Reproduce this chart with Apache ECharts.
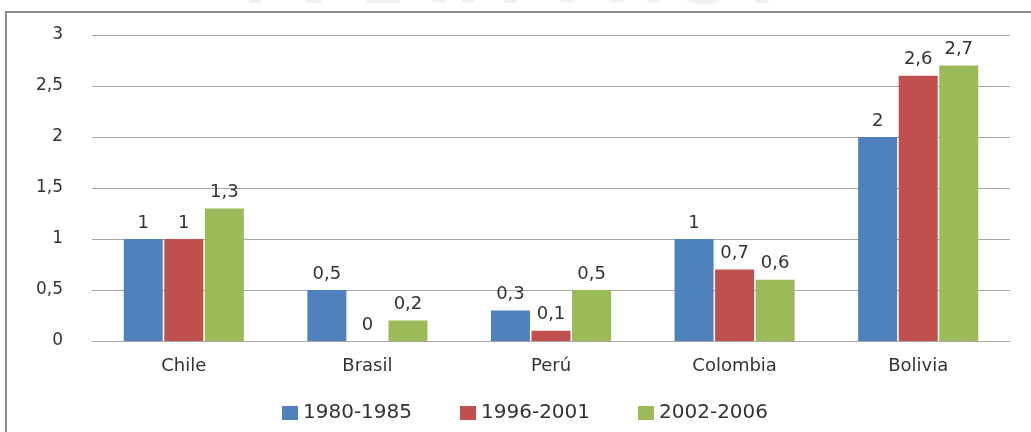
<!DOCTYPE html>
<html>
<head>
<meta charset="utf-8">
<script src="https://cdn.jsdelivr.net/npm/echarts@6/dist/echarts.min.js"></script>
<style>
  html, body { margin: 0; padding: 0; background: #fff; }
  #chart { width: 1031px; height: 432px; }
</style>
</head>
<body>
<div id="chart"></div>
<script>
// datos
const paises = ['Chile', 'Brasil', 'Perú', 'Colombia', 'Bolivia'];
const periodos = ['1980-1985', '1996-2001', '2002-2006'];
const p1980 = [1, 0.5, 0.3, 1, 2];
const p1996 = [1, 0, 0.1, 0.7, 2.6];
const p2002 = [1.3, 0.2, 0.5, 0.6, 2.7];
const colores = ['#4F81BD', '#C0504D', '#9BBB59'];

const coma = v => String(v).replace('.', ',');

const myChart = echarts.init(document.getElementById('chart'), null, { renderer: 'canvas' });

const serie = (name, data, color) => ({
  name: name,
  type: 'bar',
  data: data,
  barWidth: 39,
  barGap: '4%',
  itemStyle: { color: color },
  label: {
    show: true,
    position: 'top',
    distance: 7,
    color: '#333',
    fontFamily: 'DejaVu Sans',
    fontSize: 18,
    formatter: p => coma(p.value)
  }
});

const option = {
  animation: false,
  color: colores,
  graphic: [
    {
      type: 'text',
      z: -2,
      left: 243,
      top: -46,
      style: {
        text: 'I V E R I T A S I',
        fontFamily: 'DejaVu Sans',
        fontWeight: 'bold',
        fontSize: 64,
        fill: '#f0f0f0'
      }
    },
    {
      type: 'rect',
      z: -1,
      shape: { x: 6, y: 12, width: 1040, height: 440 },
      style: { fill: '#fff', stroke: '#8a8a8a', lineWidth: 2 }
    }
  ],
  grid: { left: 92, right: 21, top: 35, bottom: 91 },
  legend: {
    data: periodos,
    left: 277,
    top: 398,
    itemWidth: 16,
    itemHeight: 14,
    itemGap: 48,
    icon: 'rect',
    textStyle: { color: '#333', fontFamily: 'DejaVu Sans', fontSize: 20 }
  },
  xAxis: {
    type: 'category',
    data: paises,
    axisLine: { lineStyle: { color: '#a6a6a6' } },
    axisTick: { show: false },
    axisLabel: { color: '#333', fontFamily: 'DejaVu Sans', fontSize: 18, margin: 16 }
  },
  yAxis: {
    type: 'value',
    min: 0,
    max: 3,
    interval: 0.5,
    axisLine: { show: false },
    axisTick: { show: false },
    splitLine: { lineStyle: { color: '#a6a6a6' } },
    axisLabel: { color: '#333', fontFamily: 'DejaVu Sans', fontSize: 17, margin: 29, formatter: coma }
  },
  series: [
    serie(periodos[0], p1980, colores[0]),
    serie(periodos[1], p1996, colores[1]),
    serie(periodos[2], p2002, colores[2])
  ]
};

myChart.setOption(option);
</script>
</body>
</html>
